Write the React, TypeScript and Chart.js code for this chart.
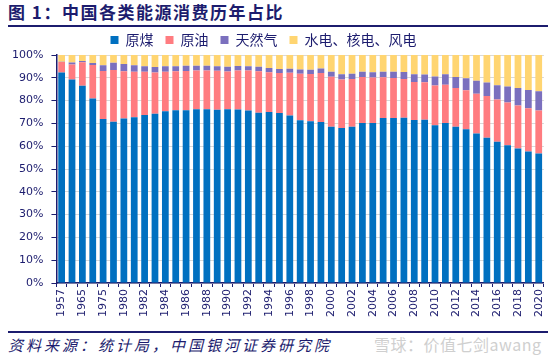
import React, { useEffect, useRef } from "react";
import { Chart, registerables } from "chart.js";

Chart.register(...registerables);

const years = [
  "1957", "1962", "1965", "1970", "1975", "1978",
  "1980", "1981", "1982", "1983", "1984", "1985", "1986", "1987", "1988", "1989",
  "1990", "1991", "1992", "1993", "1994", "1995", "1996", "1997", "1998", "1999",
  "2000", "2001", "2002", "2003", "2004", "2005", "2006", "2007", "2008", "2009",
  "2010", "2011", "2012", "2013", "2014", "2015", "2016", "2017", "2018", "2019", "2020",
];

const coal = [
  92.3, 89.2, 86.5, 80.9, 71.9, 70.7,
  72.2, 72.7, 73.7, 74.2, 75.3, 75.8, 75.8, 76.2, 76.2, 76.0,
  76.2, 76.1, 75.7, 74.7, 75.0, 74.6, 73.5, 71.4, 70.9, 70.6,
  68.5, 68.0, 68.5, 70.2, 70.2, 72.4, 72.4, 72.5, 71.5, 71.6,
  69.2, 70.2, 68.5, 67.4, 65.6, 63.7, 62.0, 60.4, 59.0, 57.7, 56.8,
];

const oil = [
  4.6, 6.6, 10.3, 14.7, 21.1, 22.7,
  20.7, 20.0, 18.9, 18.1, 17.4, 17.1, 17.2, 17.0, 17.0, 17.1,
  16.6, 17.1, 17.5, 18.2, 17.4, 17.5, 18.7, 20.4, 20.8, 21.5,
  22.0, 21.2, 21.0, 20.1, 19.9, 17.8, 17.5, 17.0, 16.7, 16.4,
  17.4, 16.8, 17.0, 17.1, 17.4, 18.3, 18.5, 18.8, 18.9, 19.0, 18.9,
];

const gas = [
  0.1, 0.9, 0.6, 0.9, 2.5, 3.2,
  3.1, 2.8, 2.5, 2.4, 2.4, 2.2, 2.3, 2.1, 2.1, 2.0,
  2.1, 2.0, 1.9, 1.9, 1.9, 1.8, 1.8, 1.8, 1.8, 2.0,
  2.2, 2.4, 2.3, 2.3, 2.3, 2.4, 2.7, 3.0, 3.4, 3.5,
  4.0, 4.6, 4.8, 5.3, 5.7, 5.9, 6.2, 7.0, 7.6, 8.0, 8.4,
];

const clean = [
  3.0, 3.3, 2.6, 3.5, 4.5, 3.4,
  4.0, 4.5, 4.9, 5.3, 4.9, 4.9, 4.7, 4.7, 4.7, 4.9,
  5.1, 4.8, 4.9, 5.2, 5.7, 6.1, 6.0, 6.4, 6.5, 5.9,
  7.3, 8.4, 8.2, 7.4, 7.6, 7.4, 7.4, 7.5, 8.4, 8.5,
  9.4, 8.4, 9.7, 10.2, 11.3, 12.1, 13.3, 13.8, 14.5, 15.3, 15.9,
];

const seriesNames = ["原煤", "原油", "天然气", "水电、核电、风电"];
const seriesColors = ["#0070C0", "#FF7C80", "#7B70BE", "#FFD571"];

const NAVY = "#1C1C6E";
const CJK = "'Noto Sans CJK SC', sans-serif";
const NUM = "'DejaVu Sans', sans-serif";

const legendNudge = {
  id: "legendNudge",
  afterLayout(chart: any) {
    const lg = chart.legend;
    if (!lg) return;
    lg.left -= 12;
    lg.right -= 12;
    lg.top += 2;
    lg.bottom += 2;
  },
};

export default function App() {
  const ref = useRef<HTMLCanvasElement>(null);

  useEffect(() => {
    document.body.style.margin = "0";
    const values = [coal, oil, gas, clean];
    const chart = new Chart(ref.current as HTMLCanvasElement, {
      type: "bar",
      data: {
        labels: years,
        datasets: values.map((d, i) => ({
          label: seriesNames[i],
          data: d,
          backgroundColor: seriesColors[i],
          borderWidth: 0,
          barPercentage: 0.65,
          categoryPercentage: 1,
        })),
      },
      plugins: [legendNudge],
      options: {
        animation: false,
        responsive: false,
        maintainAspectRatio: false,
        layout: { padding: { left: 4, right: 7, top: 0, bottom: 0 } },
        plugins: {
          legend: {
            position: "top",
            labels: {
              boxWidth: 8,
              boxHeight: 8,
              padding: 12,
              color: NAVY,
              font: { family: CJK, size: 14 },
            },
          },
          tooltip: { enabled: false },
        },
        scales: {
          x: {
            stacked: true,
            grid: { display: true, drawOnChartArea: false, tickLength: 4, tickColor: NAVY },
            border: { color: NAVY, width: 1.5 },
            ticks: {
              autoSkip: false,
              minRotation: 90,
              maxRotation: 90,
              padding: 2,
              color: NAVY,
              font: { family: NUM, size: 11 },
              callback: (_v: any, i: number) => (i % 2 === 0 ? years[i] : ""),
            },
          },
          y: {
            stacked: true,
            min: 0,
            max: 100,
            ticks: {
              stepSize: 10,
              padding: 8,
              color: NAVY,
              font: { family: NUM, size: 11 },
              callback: (v: any) => v + "%",
            },
            grid: { color: "#D9D9D9", tickColor: NAVY, tickLength: 5 },
            border: { color: NAVY, width: 1.5 },
          },
        },
      },
    });
    return () => chart.destroy();
  }, []);

  return (
    <div style={{ position: "relative", width: 554, height: 358, background: "#fff", overflow: "hidden" }}>
      <div
        style={{
          position: "absolute",
          left: 8,
          top: 2,
          fontFamily: CJK,
          fontWeight: 700,
          fontSize: 17,
          letterSpacing: 1.5,
          color: NAVY,
          whiteSpace: "nowrap",
          lineHeight: "20px",
        }}
      >
        图 1：中国各类能源消费历年占比
      </div>
      <div style={{ position: "absolute", left: 8, top: 25, width: 540, height: 2, background: NAVY }} />
      <canvas ref={ref} width={554} height={300} style={{ position: "absolute", left: 0, top: 19 }} />
      <div style={{ position: "absolute", left: 8, top: 331, width: 540, height: 2, background: NAVY }} />
      <div
        style={{
          position: "absolute",
          left: 8,
          top: 335,
          fontFamily: CJK,
          fontStyle: "italic",
          fontSize: 15,
          letterSpacing: 3,
          color: NAVY,
          whiteSpace: "nowrap",
          lineHeight: "20px",
        }}
      >
        资料来源：统计局，中国银河证券研究院
      </div>
      <div
        style={{
          position: "absolute",
          left: 374,
          top: 334,
          fontFamily: CJK,
          fontSize: 16,
          letterSpacing: 0.5,
          color: "#CFCFCF",
          whiteSpace: "nowrap",
          lineHeight: "20px",
        }}
      >
        雪球：价值七剑awang
      </div>
    </div>
  );
}
